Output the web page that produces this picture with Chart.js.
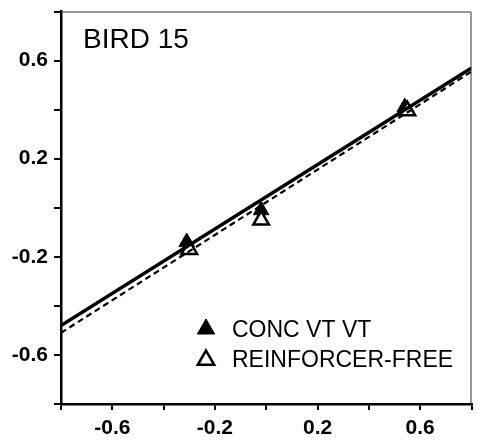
<!DOCTYPE html>
<html>
<head>
<meta charset="utf-8">
<script src="https://cdn.jsdelivr.net/npm/chart.js@4"></script>
<style>
  html, body { margin: 0; padding: 0; background: #fff; }
  #wrap { width: 483px; height: 440px; }
</style>
</head>
<body>
<div id="wrap"><canvas id="chart" width="483" height="440"></canvas></div>
<script>
// data
var concX = [-0.31, -0.02, 0.54];
var concY = [-0.14, -0.01, 0.41];
var freeX = [-0.30, -0.02, 0.55];
var freeY = [-0.17, -0.05, 0.395];

// fitted lines, ends at the axis limits
var fitX = [-0.8, 0.8];
var concFitY = [-0.48, 0.57];
var freeFitY = [-0.51, 0.555];

var tickLabels = ['-0.6', '-0.2', '0.2', '0.6'];
var legendLabels = ['CONC VT VT', 'REINFORCER-FREE'];
var panelTitle = 'BIRD 15';

function pts(xs, ys) {
  return xs.map(function(x, i) { return {x: x, y: ys[i]}; });
}

function tickCb(v) {
  var s = (Math.round(v * 10) / 10).toString();
  return tickLabels.indexOf(s) >= 0 ? s : '';
}

var font = "'Liberation Sans', Arial, sans-serif";

// title + legend drawn inside the plot
var annot = {
  id: 'annot',
  afterDraw: function(chart) {
    var c = chart.ctx, a = chart.chartArea;
    c.save();
    // thin top/right frame
    c.strokeStyle = '#333';
    c.lineWidth = 1;
    c.beginPath();
    c.moveTo(a.left, a.top + 0.5);
    c.lineTo(a.right - 0.5, a.top + 0.5);
    c.lineTo(a.right - 0.5, a.bottom);
    c.stroke();

    c.fillStyle = '#000';
    c.textBaseline = 'alphabetic';
    c.font = '28px ' + font;
    c.fillText(panelTitle, 83, 48);

    c.font = '23px ' + font;
    var styles = [
      {pointStyle: 'triangle', radius: 10, backgroundColor: '#000', borderColor: '#000', borderWidth: 1},
      {pointStyle: 'triangle', radius: 9.5, backgroundColor: '#fff', borderColor: '#000', borderWidth: 2.5}
    ];
    var rows = [329, 360];
    var base = [337, 367];
    for (var i = 0; i < 2; i++) {
      c.fillStyle = styles[i].backgroundColor;
      c.strokeStyle = styles[i].borderColor;
      c.lineWidth = styles[i].borderWidth;
      Chart.helpers.drawPoint(c, styles[i], 206, rows[i]);
      c.fillStyle = '#000';
      c.fillText(legendLabels[i], 232, base[i]);
    }
    c.restore();
  }
};

var ctx = document.getElementById('chart').getContext('2d');

var myChart = new Chart(ctx, {
  type: 'scatter',
  data: {
    datasets: [{
      label: 'fit conc',
      type: 'line',
      data: pts(fitX, concFitY),
      borderColor: '#000',
      borderWidth: 3.5,
      pointRadius: 0,
      fill: false
    }, {
      label: 'fit free',
      type: 'line',
      data: pts(fitX, freeFitY),
      borderColor: '#000',
      borderWidth: 2.2,
      borderDash: [6, 4],
      pointRadius: 0,
      fill: false
    }, {
      label: legendLabels[1],
      data: pts(freeX, freeY),
      pointStyle: 'triangle',
      pointRadius: 9,
      backgroundColor: '#fff',
      borderColor: '#000',
      borderWidth: 2.5
    }, {
      label: legendLabels[0],
      data: pts(concX, concY),
      pointStyle: 'triangle',
      pointRadius: 9,
      backgroundColor: '#000',
      borderColor: '#000',
      borderWidth: 1
    }]
  },
  plugins: [annot],
  options: {
    responsive: false,
    animation: false,
    layout: { padding: { top: 6, right: 8, left: 0, bottom: 0 } },
    plugins: {
      legend: { display: false },
      tooltip: { enabled: false }
    },
    scales: {
      x: {
        min: -0.8, max: 0.8,
        afterFit: function(s) { s.height = 36; s.paddingLeft = 0; s.paddingRight = 0; },
        border: { display: true, color: '#000', width: 2.5 },
        grid: { drawOnChartArea: false, drawTicks: true, tickLength: 6, color: '#000', lineWidth: 2 },
        ticks: {
          stepSize: 0.2, autoSkip: false, maxRotation: 0, padding: 6,
          color: '#000', font: { family: font, size: 21, weight: 'bold' },
          callback: tickCb
        }
      },
      y: {
        min: -0.8, max: 0.8,
        afterFit: function(s) { s.width = 61; s.paddingTop = 0; s.paddingBottom = 0; },
        border: { display: true, color: '#000', width: 2.5 },
        grid: { drawOnChartArea: false, drawTicks: true, tickLength: 7, color: '#000', lineWidth: 2 },
        ticks: {
          stepSize: 0.2, autoSkip: false, padding: 6,
          color: '#000', font: { family: font, size: 21, weight: 'bold' },
          callback: tickCb
        }
      }
    }
  }
});
</script>
</body>
</html>
